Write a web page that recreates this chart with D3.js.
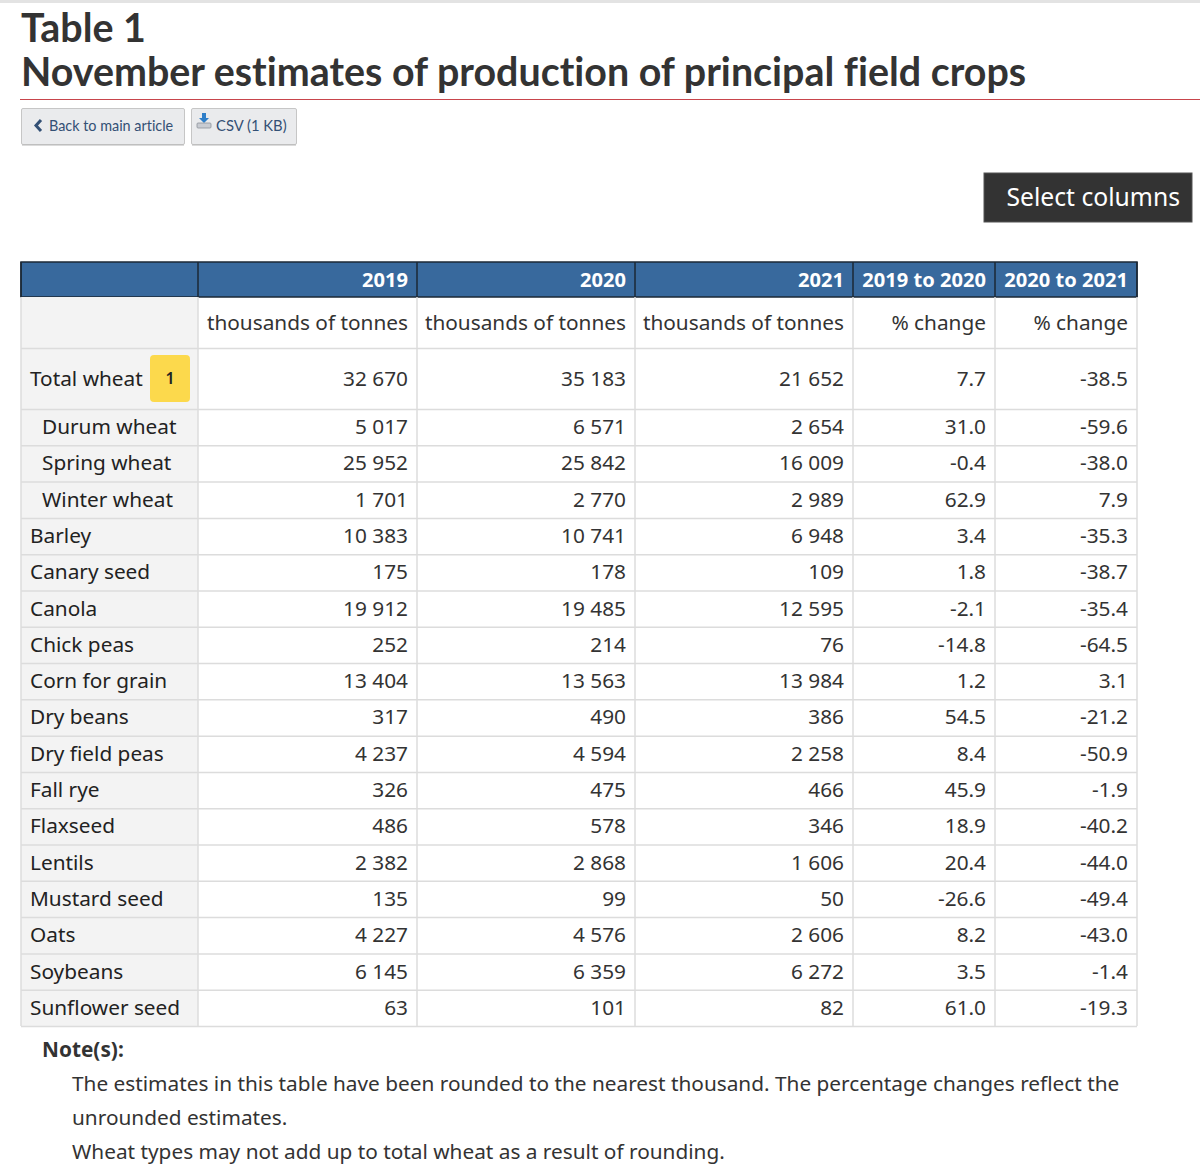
<!DOCTYPE html>
<html>
<head>
<meta charset="utf-8">
<script src="https://cdn.jsdelivr.net/npm/d3@7"></script>
<style>
  html, body { margin: 0; padding: 0; background: #fff; }
  svg { display: block; }
  text { font-variant-ligatures: none; }
</style>
</head>
<body>
<div id="chart"></div>
<script>
const crops = ["Total wheat", "Durum wheat", "Spring wheat", "Winter wheat", "Barley", "Canary seed",
  "Canola", "Chick peas", "Corn for grain", "Dry beans", "Dry field peas", "Fall rye", "Flaxseed",
  "Lentils", "Mustard seed", "Oats", "Soybeans", "Sunflower seed"];
const wheatTypes = ["Durum wheat", "Spring wheat", "Winter wheat"];
const prod2019 = [32670, 5017, 25952, 1701, 10383, 175, 19912, 252, 13404, 317, 4237, 326, 486, 2382, 135, 4227, 6145, 63];
const prod2020 = [35183, 6571, 25842, 2770, 10741, 178, 19485, 214, 13563, 490, 4594, 475, 578, 2868, 99, 4576, 6359, 101];
const prod2021 = [21652, 2654, 16009, 2989, 6948, 109, 12595, 76, 13984, 386, 2258, 466, 346, 1606, 50, 2606, 6272, 82];
const chg1920 = [7.7, 31.0, -0.4, 62.9, 3.4, 1.8, -2.1, -14.8, 1.2, 54.5, 8.4, 45.9, 18.9, 20.4, -26.6, 8.2, 3.5, 61.0];
const chg2021 = [-38.5, -59.6, -38.0, 7.9, -35.3, -38.7, -35.4, -64.5, 3.1, -21.2, -50.9, -1.9, -40.2, -44.0, -49.4, -43.0, -1.4, -19.3];
const headers = ["", "2019", "2020", "2021", "2019 to 2020", "2020 to 2021"];
const units = ["", "thousands of tonnes", "thousands of tonnes", "thousands of tonnes", "% change", "% change"];
const notes = [
  "The estimates in this table have been rounded to the nearest thousand. The percentage changes reflect the",
  "unrounded estimates.",
  "Wheat types may not add up to total wheat as a result of rounding."
];

const width = 1200, height = 1176;
const bodyFont = "'Noto Sans', 'Open Sans', sans-serif";
const titleFont = "Lato, 'Noto Sans', sans-serif";
const fs = 20.8;

const locale = d3.formatLocale({ decimal: ".", thousands: "\u00a0", grouping: [3], currency: ["", ""], minus: "-" });
const fmtInt = locale.format(",d");
const fmtPct = locale.format(".1f");

const svg = d3.select("#chart").append("svg")
  .attr("width", width)
  .attr("height", height);

// page chrome
svg.append("rect").attr("x", 0).attr("y", 0).attr("width", width).attr("height", 3).attr("fill", "#e3e3e3");

const title = svg.append("g")
  .attr("font-family", titleFont)
  .attr("font-weight", 700)
  .attr("fill", "#333");
title.append("text").attr("x", 21).attr("y", 42).attr("font-size", 39.4).text("Table 1");
title.append("text").attr("x", 21).attr("y", 86).attr("font-size", 39.4).text("November estimates of production of principal field crops");

svg.append("rect")
  .attr("x", 20).attr("y", 99)
  .attr("width", width - 20).attr("height", 1)
  .attr("fill", "#c8454c");

// small buttons
const buttons = [
  { label: "Back to main article", x: 21, w: 164, icon: "back" },
  { label: "CSV (1 KB)", x: 191, w: 106, icon: "csv" }
];
const btn = svg.selectAll("g.btn").data(buttons).join("g")
  .attr("class", "btn")
  .attr("transform", d => `translate(${d.x},108)`);
btn.append("rect")
  .attr("x", 0.5).attr("y", 0.5).attr("width", d => d.w - 1).attr("height", 36)
  .attr("rx", 1.5)
  .attr("fill", "#eaebed").attr("stroke", "#c6c6c6");
btn.append("line")
  .attr("x1", 1).attr("x2", d => d.w - 1).attr("y1", 37).attr("y2", 37)
  .attr("stroke", "#b8b8b8").attr("stroke-width", 1);
btn.append("text")
  .attr("x", d => d.icon === "back" ? 28 : 25)
  .attr("y", 23)
  .attr("font-family", titleFont)
  .attr("font-size", d => d.icon === "back" ? 14.4 : 14.8)
  .attr("fill", "#335075")
  .text(d => d.label);
btn.filter(d => d.icon === "back").append("path")
  .attr("d", "M 20 12 L 15 17.5 L 20 23")
  .attr("fill", "none").attr("stroke", "#335075").attr("stroke-width", 3).attr("stroke-linejoin", "miter");
const csvIcon = btn.filter(d => d.icon === "csv");
csvIcon.append("path")
  .attr("d", "M 11 5 L 15 5 L 15 10 L 18 10 L 13 15 L 8 10 L 11 10 Z")
  .attr("fill", "#2f7fc9");
csvIcon.append("rect")
  .attr("x", 6).attr("y", 15).attr("width", 14).attr("height", 5).attr("rx", 1)
  .attr("fill", "#c9ccd2").attr("stroke", "#8d929a").attr("stroke-width", 0.8);

// select columns button
const sel = svg.append("g").attr("transform", "translate(984,173)");
sel.append("rect").attr("width", 208).attr("height", 49).attr("fill", "#333").attr("stroke", "#555");
sel.append("text")
  .attr("x", 196).attr("y", 33)
  .attr("text-anchor", "end")
  .attr("font-family", bodyFont).attr("font-size", 24.7)
  .attr("fill", "#fff")
  .text("Select columns");

// table layout
const colEdges = [21, 198, 417, 635, 853, 995, 1137];
const tableLeft = colEdges[0], tableRight = colEdges[colEdges.length - 1];
const headTop = 262, headBottom = 297, unitBottom = 348, totalBottom = 409, tableBottom = 1026;

const rows = crops.map((c, i) => ({
  crop: c,
  sub: wheatTypes.includes(c),
  values: [fmtInt(prod2019[i]), fmtInt(prod2020[i]), fmtInt(prod2021[i]), fmtPct(chg1920[i]), fmtPct(chg2021[i])]
}));

const y = d3.scaleBand()
  .domain(crops.slice(1))
  .range([totalBottom, tableBottom]);

const rowTop = d => d.crop === crops[0] ? unitBottom : y(d.crop);
const rowH = d => d.crop === crops[0] ? totalBottom - unitBottom : y.bandwidth();

const table = svg.append("g").attr("font-family", bodyFont);

// header
table.append("rect")
  .attr("x", tableLeft).attr("y", headTop)
  .attr("width", tableRight - tableLeft).attr("height", headBottom - headTop)
  .attr("fill", "#38699d");
table.append("g").selectAll("line").data(colEdges).join("line")
  .attr("x1", d => d).attr("x2", d => d)
  .attr("y1", headTop).attr("y2", headBottom)
  .attr("stroke", "#1b2836").attr("stroke-width", 1.5);
table.append("rect")
  .attr("x", tableLeft).attr("y", headTop)
  .attr("width", tableRight - tableLeft).attr("height", headBottom - headTop)
  .attr("fill", "none").attr("stroke", "#1b2836").attr("stroke-width", 1.5);
table.append("g").selectAll("text").data(headers).join("text")
  .attr("x", (d, i) => colEdges[i + 1] - 9)
  .attr("y", headBottom - 10)
  .attr("text-anchor", "end")
  .attr("font-size", 20.1).attr("font-weight", 700)
  .attr("fill", "#fff")
  .text(d => d);

// first-column shading
table.append("rect")
  .attr("x", tableLeft).attr("y", headBottom)
  .attr("width", colEdges[1] - tableLeft).attr("height", tableBottom - headBottom)
  .attr("fill", "#f3f3f3");

// horizontal grid
const hLines = [unitBottom, ...crops.slice(1).map(c => y(c)), tableBottom];
table.append("g").selectAll("line").data(hLines).join("line")
  .attr("x1", tableLeft).attr("x2", tableRight)
  .attr("y1", d => d + 0.5).attr("y2", d => d + 0.5)
  .attr("stroke", "#dcdcdc").attr("stroke-width", 1.5);

// vertical grid
table.append("g").selectAll("line").data(colEdges).join("line")
  .attr("x1", d => d).attr("x2", d => d)
  .attr("y1", headBottom).attr("y2", tableBottom)
  .attr("stroke", "#dcdcdc").attr("stroke-width", 1.5);

// unit row
table.append("g").selectAll("text").data(units).join("text")
  .attr("x", (d, i) => colEdges[i + 1] - 9)
  .attr("y", headBottom + 33)
  .attr("text-anchor", "end")
  .attr("font-size", fs)
  .attr("fill", "#333")
  .text(d => d);

// body rows
const rowG = table.append("g").selectAll("g").data(rows).join("g")
  .attr("transform", d => `translate(0,${rowTop(d)})`);

rowG.append("text")
  .attr("x", d => d.sub ? 42 : 30)
  .attr("y", d => rowH(d) / 2 + 7)
  .attr("font-size", fs)
  .attr("fill", "#222")
  .text(d => d.crop);

rowG.selectAll("text.val").data(d => d.values.map(v => ({ v, h: rowH(d) }))).join("text")
  .attr("class", "val")
  .attr("x", (d, i) => colEdges[i + 2] - 9)
  .attr("y", d => d.h / 2 + 7)
  .attr("text-anchor", "end")
  .attr("font-size", fs)
  .attr("fill", "#333")
  .text(d => d.v);

// footnote badge on Total wheat
const badge = rowG.filter(d => d.crop === crops[0]).append("g").attr("transform", "translate(150,7)");
badge.append("rect")
  .attr("width", 40).attr("height", 47).attr("rx", 4)
  .attr("fill", "#fcd94c");
badge.append("text")
  .attr("x", 20).attr("y", 29)
  .attr("text-anchor", "middle")
  .attr("font-size", 16)
  .attr("font-weight", 600)
  .attr("fill", "#222")
  .text("1");

// notes
const noteG = svg.append("g").attr("font-family", bodyFont).attr("fill", "#333");
noteG.append("text")
  .attr("x", 42).attr("y", 1057)
  .attr("font-size", fs).attr("font-weight", 700)
  .text("Note(s):");
noteG.selectAll("text.note").data(notes).join("text")
  .attr("class", "note")
  .attr("x", 72)
  .attr("y", (d, i) => 1091 + i * 34)
  .attr("font-size", fs)
  .text(d => d);
</script>
</body>
</html>
